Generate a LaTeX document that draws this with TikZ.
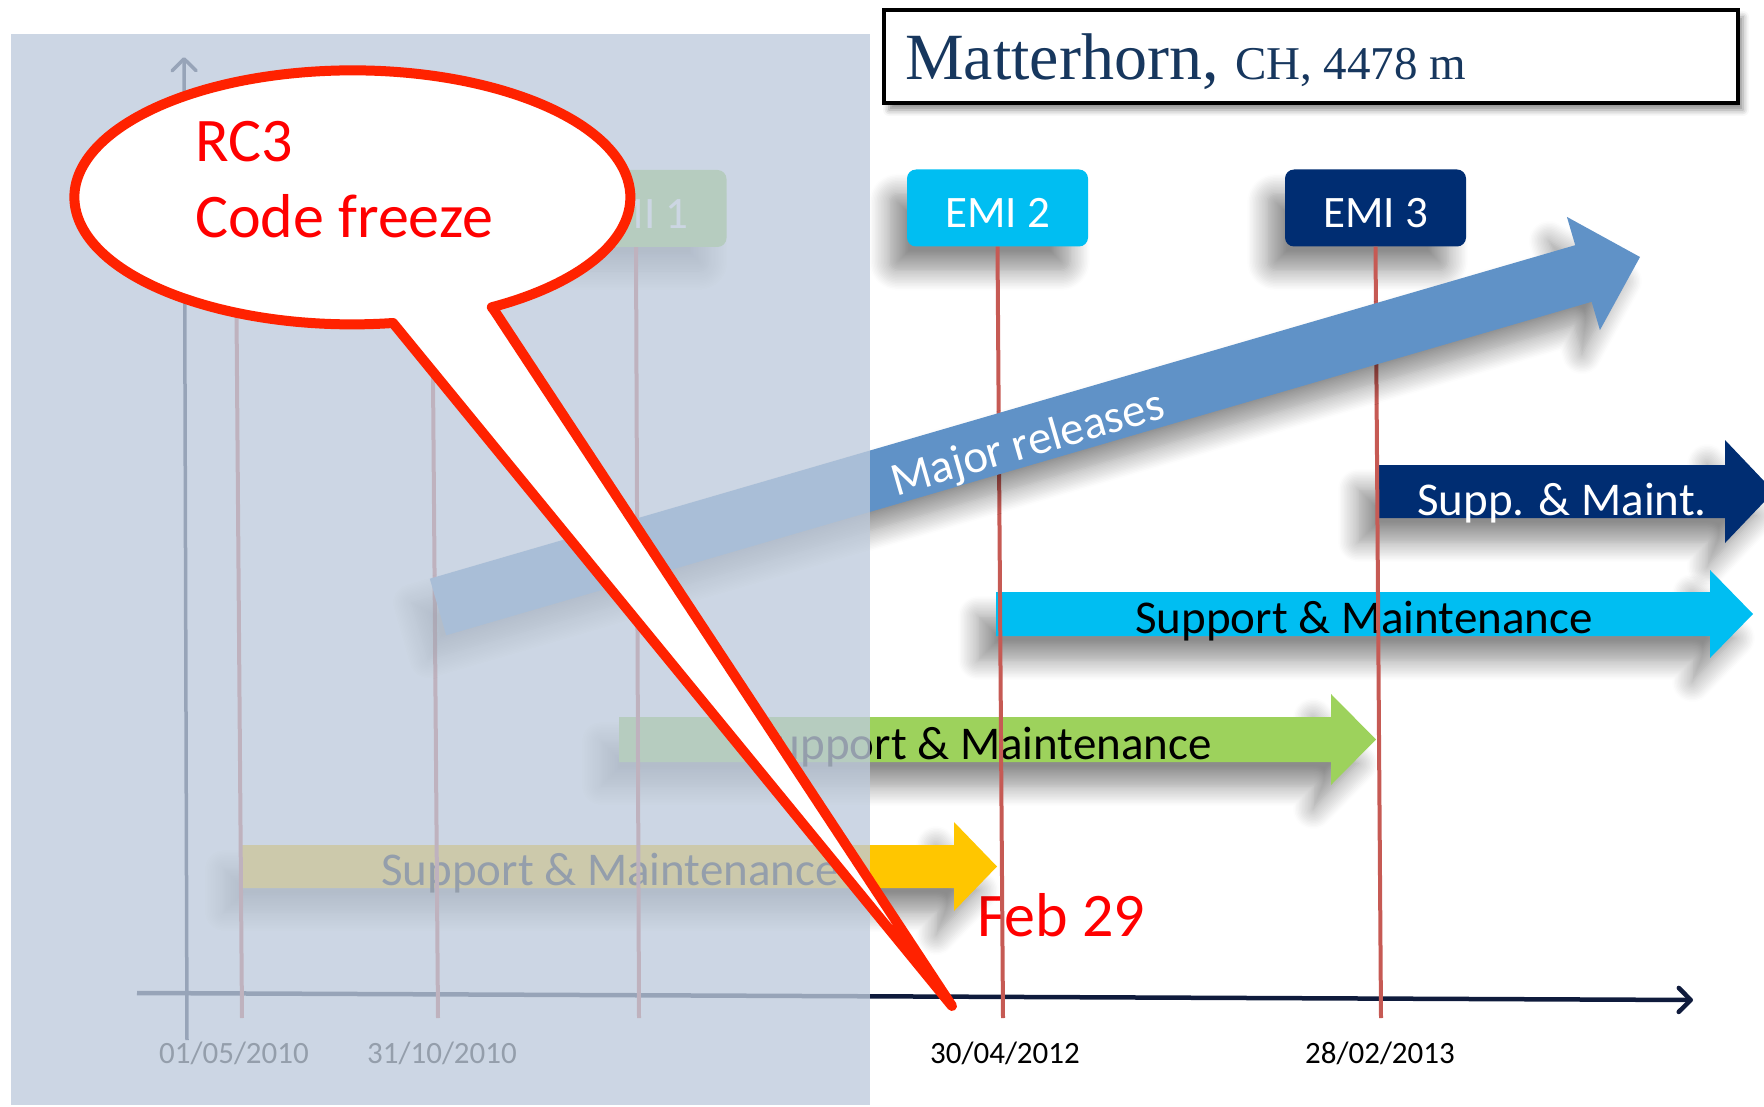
\documentclass[tikz,border=0pt]{standalone}
\usepackage{fontspec}
\setmainfont{Carlito}
\newfontfamily\titlefont{Liberation Serif}
\usetikzlibrary{shadows.blur,arrows.meta}

\definecolor{navy}{RGB}{0,45,114}
\definecolor{cyanbar}{RGB}{0,190,242}
\definecolor{greenbar}{RGB}{157,210,92}
\definecolor{yellowbar}{RGB}{255,198,0}
\definecolor{majorblue}{RGB}{96,146,199}
\definecolor{milered}{RGB}{198,90,84}
\definecolor{axisnavy}{RGB}{15,27,60}
\definecolor{veilblue}{RGB}{190,203,220}
\definecolor{titleblue}{RGB}{23,55,94}
\definecolor{bubblered}{RGB}{255,34,0}

\begin{document}
\begin{tikzpicture}[x=1pt,y=-1pt,
    txt/.style={inner sep=0pt},
    softshadow/.style={blur shadow={shadow xshift=-18pt,shadow yshift=-24pt,shadow blur radius=20pt,
        shadow blur steps=14,shadow opacity=45}},
    emibox/.style={rounded corners=9pt,minimum width=181pt,minimum height=77pt,inner sep=0pt,
        text height=40pt,text depth=0pt,text=white,font=\fontsize{45}{54}\selectfont,softshadow},
    barlabel/.style={txt,anchor=base,font=\fontsize{47}{56}\selectfont},
    datelabel/.style={txt,anchor=base,font=\fontsize{31}{37}\selectfont},
    mile/.style={draw=milered,line width=4pt},
    axisline/.style={draw=axisnavy,line width=4.5pt,-{Straight Barb[length=12pt,width=24pt,round]}},
    veil/.style={fill=veilblue,fill opacity=0.78},
    bubble/.style={draw=bubblered,fill=white,line width=10pt,line join=round},
    redtext/.style={txt,anchor=base west,text=red,font=\fontsize{62}{76}\selectfont}]

    \useasboundingbox (0,0) rectangle (1764,1107);

    % title
    \node[draw,line width=4pt,minimum width=854pt,minimum height=93pt,fill=white,
        blur shadow={shadow xshift=5pt,shadow yshift=-7pt,shadow blur radius=6pt,shadow opacity=45}] (title) at (1311,56.5) {};
    \node[txt,anchor=base west,text=titleblue] (titletext) at (905,80)
        {\titlefont\fontsize{66}{70}\selectfont Matterhorn, \fontsize{47}{50}\selectfont CH, 4478 m};

    \node[redtext] (feb) at (977,936) {Feb 29};

    % support arrows
    \foreach \xa/\xb/\yt/\yb/\e/\h/\col/\tcol/\tx/\lab in {
        1376/1725/465/518/25/49/navy/white/1562/{Supp. \& Maint.},
        996/1710/592/636/22/43/cyanbar/black/1364/{Support \& Maintenance},
        619/1331/717/762/23/45/greenbar/black/983/{Support \& Maintenance},
        242/954/845/888/23/43/yellowbar/black/610/{Support \& Maintenance}}
    {
        \fill[\col,softshadow] (\xa,\yt) -- (\xb,\yt) -- (\xb,\yt-\e) -- (\xb+\h,{(\yt+\yb)/2})
            -- (\xb,\yb+\e) -- (\xb,\yb) -- (\xa,\yb) -- cycle;
        \node[barlabel,text=\tcol] (lab\col) at (\tx,\yb-3) {\lab};
    }

    % releases
    \node[emibox,fill=greenbar] (emi1) at (636,208.5) {EMI 1};
    \node[emibox,fill=cyanbar] (emi2) at (997.5,208) {EMI 2};
    \node[emibox,fill=navy] (emi3) at (1375.5,208) {EMI 3};

    % axes
    \coordinate (xo) at (137,993);
    \coordinate (xe) at (1693,1000);
    \coordinate (yo) at (187,1040);
    \coordinate (ye) at (184,57);
    \draw[axisline] (xo) -- (xe);
    \draw[axisline,line width=3.5pt] (yo) -- (ye);

    % milestones
    \coordinate (m1) at (236,248);
    \coordinate (m2) at (432,248);
    \foreach \i/\x in {1/242,2/438,3/639,4/1003,5/1381}
        \coordinate (d\i) at (\x,1018);
    \foreach \a/\i in {m1/1,m2/2,emi1.south/3,emi2.south/4,emi3.south/5}
        \draw[mile] (\a) -- (d\i);

    \fill[majorblue,softshadow] (429.8,578.7) -- (1575.2,245.2) -- (1566.9,216.9) -- (1640,257)
        -- (1599.9,330.1) -- (1591.6,301.8) -- (446.2,635.3) -- cycle;
    \node[txt,text=white,rotate=16.2,font=\fontsize{47}{56}\selectfont] (major) at (1028,445) {Major releases};

    \foreach \i/\x/\lab in {1/234/{01/05/2010},2/442/{31/10/2010},4/1005/{30/04/2012},5/1380/{28/02/2013}}
        \node[datelabel] (date\i) at (\x,1063) {\lab};

    \fill[veil] (11,34) rectangle (870,1105);

    % callout
    \draw[bubble] (494,310) -- (952,1006) -- (393,323)
        arc[start angle=81.6,end angle=419.9,x radius=278,y radius=127] -- cycle;
    \node[redtext] (rc) at (195,162) {RC3};
    \node[redtext] (freeze) at (195,238) {Code freeze};
\end{tikzpicture}
\end{document}
